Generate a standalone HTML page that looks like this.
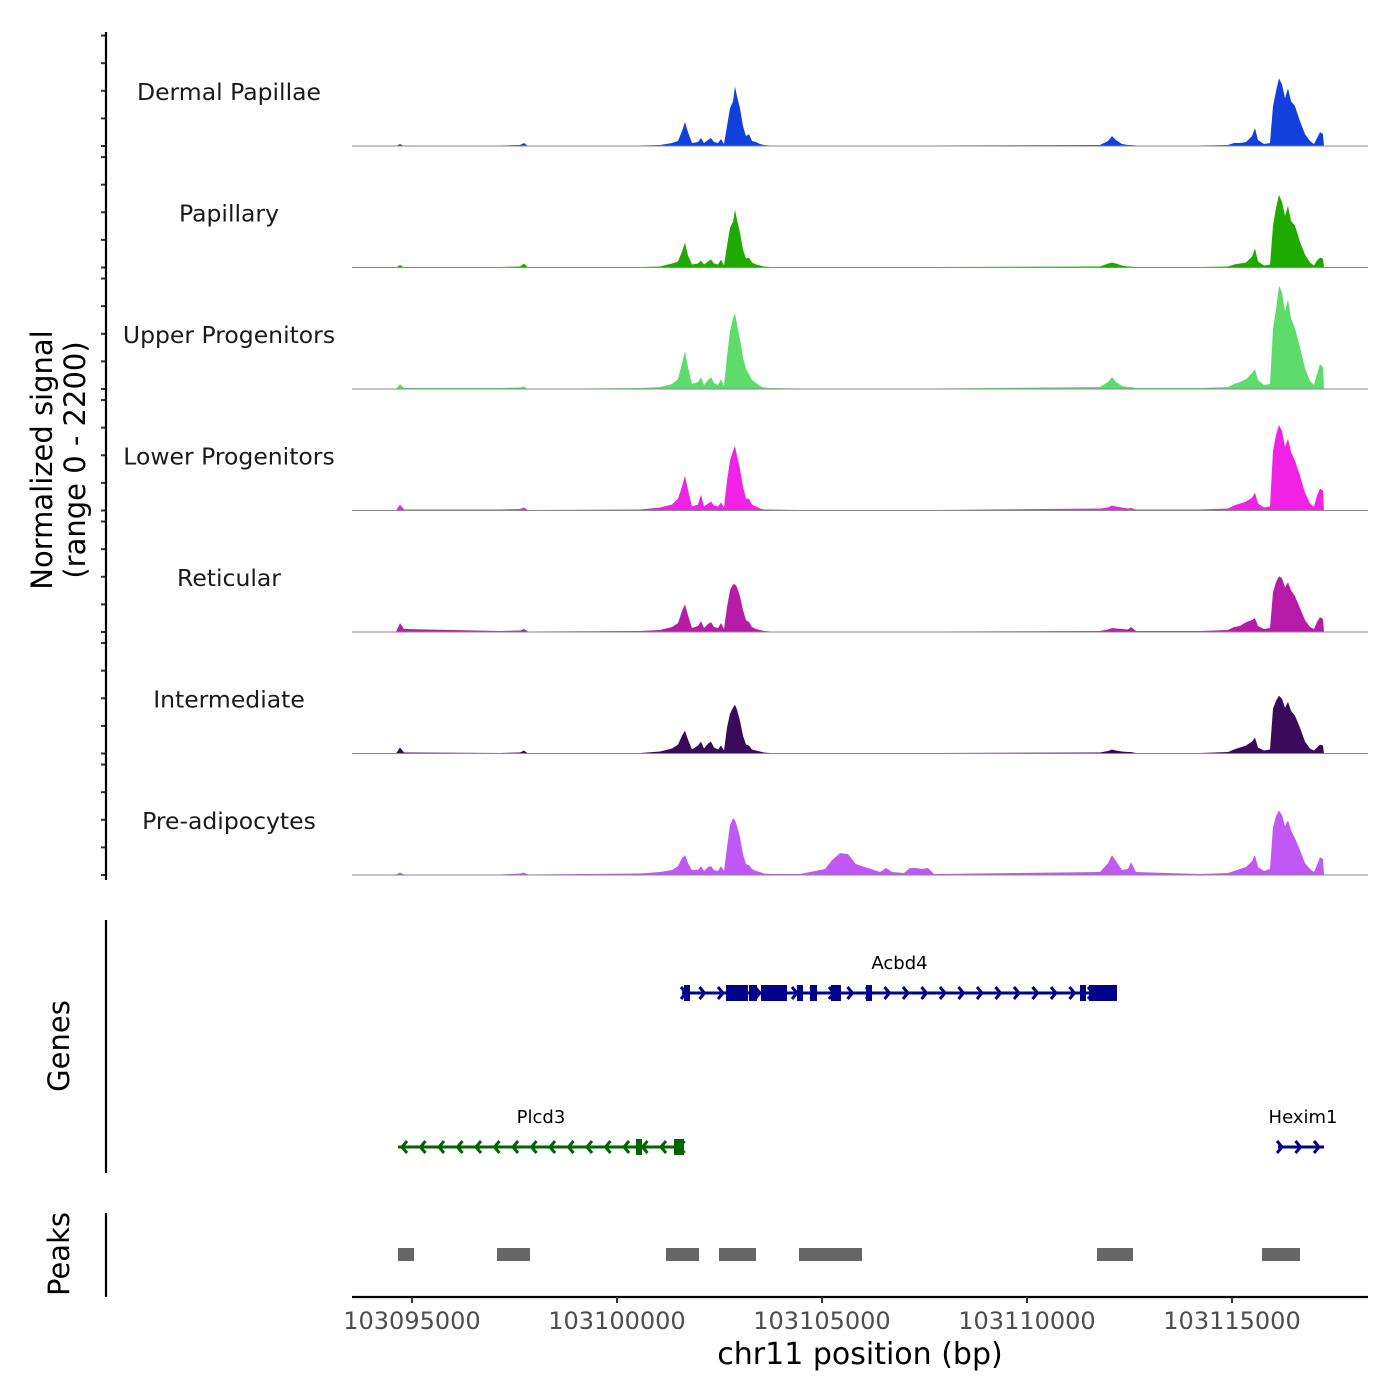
<!DOCTYPE html>
<html><head><meta charset="utf-8"><style>
html,body{margin:0;padding:0;background:#fff;width:1400px;height:1400px;overflow:hidden}
svg text{font-family:"DejaVu Sans","Liberation Sans",sans-serif}
</style></head><body>
<svg id="chart" width="1400" height="1400" viewBox="0 0 1400 1400" xmlns="http://www.w3.org/2000/svg"></svg>
<script>
const trackNames = ["Dermal Papillae","Papillary","Upper Progenitors","Lower Progenitors","Reticular","Intermediate","Pre-adipocytes"];
const trackColors = ["#1240dc","#1faa00","#5ddc6c","#f022e6","#b61ca8","#3a0a5a","#c158f5"];
const binPositions = [103093537,103094610,103094707,103094805,103097146,103097634,103097732,103097829,103100561,103101049,103101341,103101488,103101585,103101658,103101732,103101829,103101976,103102049,103102122,103102220,103102293,103102366,103102463,103102537,103102610,103102683,103102756,103102829,103102878,103102927,103103000,103103073,103103146,103103220,103103293,103103390,103103488,103103585,103103732,103104463,
103105073,103105244,103105439,103105634,103105829,103106415,103106561,103106707,103107000,103107146,103107293,103107439,103107585,103107732,
103111780,103111976,103112073,103112171,103112317,103112463,103112537,103112659,
103114220,103114902,103115049,103115195,103115341,103115488,103115561,103115634,103115780,103115927,103116000,103116073,103116146,103116220,103116293,103116366,103116439,103116537,103116659,103116780,103116902,103117000,103117073,103117146,103117220,103117244,103118317];
const signalDermalPapillae = [0,0,36,0,9,18,54,0,9,18,54,90,270,432,252,54,72,144,54,108,144,72,54,126,36,360,684,810,1080,900,684,360,180,216,90,72,36,18,9,9,
0,0,0,0,0,0,0,0,0,0,0,0,0,9,
18,90,180,108,36,18,18,9,
9,18,54,54,72,180,324,108,36,54,720,990,1224,1116,864,1044,810,720,450,216,90,36,144,252,216,0,0];
const signalPapillary = [0,0,45,0,9,18,72,0,9,18,72,108,288,450,216,54,72,126,54,108,144,72,54,144,36,396,720,828,1044,864,630,324,162,180,90,54,36,18,9,9,
0,0,0,0,0,0,0,0,0,0,0,0,0,9,
18,72,90,72,36,18,18,9,
9,18,54,72,90,198,342,108,36,54,756,1080,1314,1188,936,1116,846,756,468,234,90,36,126,180,162,0,0];
const signalUpperProgenitors = [0,0,90,18,18,27,45,0,18,36,90,180,468,684,396,90,126,216,72,162,216,108,72,180,54,594,1044,1278,1368,1170,900,576,360,270,162,108,54,27,18,9,
0,0,0,0,0,0,0,0,0,0,0,0,0,9,
36,126,216,126,54,36,36,18,
18,36,90,126,180,288,360,162,72,90,1080,1440,1872,1746,1404,1620,1278,1098,756,378,144,72,270,450,396,0,0];
const signalLowerProgenitors = [0,0,108,18,18,27,54,9,18,54,108,216,432,630,378,72,108,288,72,126,162,90,72,144,54,540,900,1080,1170,990,756,432,216,216,108,72,36,18,18,9,
9,9,9,9,9,9,9,9,9,9,9,9,9,9,
36,54,90,72,54,36,45,18,
18,36,90,126,162,234,324,126,54,72,1080,1368,1548,1440,1152,1296,1062,900,630,324,126,72,270,396,360,0,0];
const signalReticular = [0,0,162,54,18,27,54,9,18,36,90,162,378,504,306,72,108,198,72,144,180,90,72,162,54,450,756,864,864,810,648,396,216,180,90,54,36,18,9,9,
0,0,0,0,0,0,0,0,0,0,0,0,0,9,
18,45,72,63,54,45,90,18,
18,36,90,108,180,216,252,108,54,72,720,900,1008,972,810,900,756,648,432,216,90,54,180,270,234,0,0];
const signalIntermediate = [0,0,108,18,9,18,54,0,9,36,90,162,324,414,252,72,144,216,90,180,216,108,72,144,54,468,720,828,882,792,594,324,162,144,72,54,36,18,9,9,
0,0,0,0,0,0,0,0,0,0,0,0,0,9,
18,45,72,54,36,27,27,9,
9,27,72,108,144,216,288,108,54,72,810,954,1044,990,828,936,774,684,468,216,90,54,108,162,144,0,0];
const signalPreAdipocytes = [0,9,45,9,9,27,45,9,27,54,90,162,306,360,216,90,90,162,72,144,162,90,72,162,72,504,900,1026,990,882,684,378,198,180,108,72,54,27,18,18,
108,270,396,378,198,54,126,54,36,126,126,108,126,18,
54,216,360,252,90,108,234,54,
18,36,72,108,144,252,360,144,72,108,864,1062,1170,1080,882,990,810,666,450,216,108,54,180,324,288,0,0];
const trackSignals = [signalDermalPapillae,signalPapillary,signalUpperProgenitors,signalLowerProgenitors,signalReticular,signalIntermediate,signalPreAdipocytes];
const xTicks = [103095000,103100000,103105000,103110000,103115000];
const yTicks = [0,500,1000,1500,2000];
const geneNames = ["Acbd4","Plcd3","Hexim1"];
const geneStarts = [103101585,103094659,103116122];
const geneEnds = [103112195,103101634,103117244];
const geneStrands = [1,-1,1];
const geneColors = ["#00008b","#006400","#00008b"];
const acbd4Exons = [[103101634,103101780],[103102659,103103195],[103103220,103103415],[103103512,103104146],[103104390,103104537],[103104707,103104878],[103105220,103105463],[103106073,103106220],[103111293,103111439],[103111512,103112195]];
const plcd3Exons = [[103100463,103100610],[103101390,103101634]];
const hexim1Exons = [];
const geneExons = [acbd4Exons,plcd3Exons,hexim1Exons];
const peakStarts = [103094659,103097073,103101195,103102488,103104439,103111707,103115732];
const peakEnds = [103095049,103097878,103102000,103103390,103105976,103112585,103116659];

const NS="http://www.w3.org/2000/svg";
const svg=document.getElementById('chart');
function mk(tag,attrs,parent,text){const e=document.createElementNS(NS,tag);for(const k in attrs)e.setAttribute(k,attrs[k]);if(text!==undefined)e.textContent=text;(parent||svg).appendChild(e);return e;}
const X0=352,X1=1368,BP0=103093537,BP1=103118317;
function xs(bp){return X0+(bp-BP0)/(BP1-BP0)*(X1-X0);}
const Y_MAX=2200,TRACK_H=121.5,BASE0=146;
function ys(v,i){return BASE0+i*TRACK_H-v/Y_MAX*TRACK_H;}

trackNames.forEach((name,i)=>{
  const g=mk('g',{});
  
  
  const base=BASE0+i*TRACK_H;
  let d='M'+xs(binPositions[0])+','+base;
  trackSignals[i].forEach((v,j)=>{d+=' L'+xs(binPositions[j]).toFixed(1)+','+ys(v,i).toFixed(1);});
  d+=' L'+xs(binPositions[binPositions.length-1])+','+base+' Z';
  const a=mk('path',{d:d,fill:trackColors[i],stroke:'none'},g);
  
  
  const bl=mk('line',{x1:X0,x2:X1,y1:base,y2:base,stroke:'#888',"stroke-width":1},g);
  
  
  const t=mk('text',{x:229,y:base-46,"text-anchor":"middle","font-size":23.5,fill:'#1a1a1a'},g,name);
  
  
  yTicks.forEach(v=>{
    const tk=mk('line',{x1:101,x2:106,y1:ys(v,i),y2:ys(v,i),stroke:'#333',"stroke-width":2},g);
    
    
  });
});
const ya=mk('line',{x1:106,x2:106,y1:32,y2:880,stroke:'#000',"stroke-width":2.2});


const yt=mk('text',{transform:'translate(52,460) rotate(-90)',"text-anchor":"middle","font-size":29,fill:'#000'});


mk('tspan',{x:0,y:0},yt,'Normalized signal');
mk('tspan',{x:0,y:33},yt,'(range 0 - 2200)');

const ga=mk('line',{x1:106,x2:106,y1:920,y2:1173,stroke:'#000',"stroke-width":2.2});


const gt=mk('text',{transform:'translate(69,1046) rotate(-90)',"text-anchor":"middle","font-size":29},svg,'Genes');


const geneRows=[993,1147,1147];
geneNames.forEach((n,i)=>{
  const g=mk('g',{});
  
  
  const y=geneRows[i],c=geneColors[i],xa=xs(geneStarts[i]),xb=xs(geneEnds[i]);
  mk('line',{x1:xa,x2:xb,y1:y,y2:y,stroke:c,"stroke-width":3},g);
  const s=geneStrands[i];
  for(let x=xa+4;x<=xb-2;x+=18.5){
    const p=mk('polyline',{points:s>0?`${x-5},${y-6} ${x},${y} ${x-5},${y+6}`:`${x+5},${y-6} ${x},${y} ${x+5},${y+6}`,fill:'none',stroke:c,"stroke-width":3},g);
    
    
  }
  geneExons[i].forEach(e=>{
    const r=mk('rect',{x:xs(e[0]),y:y-8,width:Math.max(xs(e[1])-xs(e[0]),4),height:16,fill:c},g);
    
    
  });
  const lb=mk('text',{x:(xa+xb)/2+(i==2?2:0),y:y-24,"text-anchor":"middle","font-size":18,fill:'#000'},g,n);
  
  
});

const pa=mk('line',{x1:106,x2:106,y1:1213,y2:1297,stroke:'#000',"stroke-width":2.2});


const pt=mk('text',{transform:'translate(69,1254) rotate(-90)',"text-anchor":"middle","font-size":29},svg,'Peaks');


peakStarts.forEach((s,i)=>{
  const r=mk('rect',{x:xs(s),y:1248,width:xs(peakEnds[i])-xs(s),height:13,fill:'#666'});
  
  
});

const xa=mk('line',{x1:X0,x2:X1,y1:1297,y2:1297,stroke:'#000',"stroke-width":2.2});


xTicks.forEach(v=>{
  const tk=mk('line',{x1:xs(v),x2:xs(v),y1:1297,y2:1303,stroke:'#333',"stroke-width":2});
  
  
  const tl=mk('text',{x:xs(v),y:1329,"text-anchor":"middle","font-size":24,fill:'#4d4d4d'},svg,String(v));
  
  
});
const xt=mk('text',{x:860,y:1364,"text-anchor":"middle","font-size":30,fill:'#000'},svg,'chr11 position (bp)');


</script>
</body></html>
